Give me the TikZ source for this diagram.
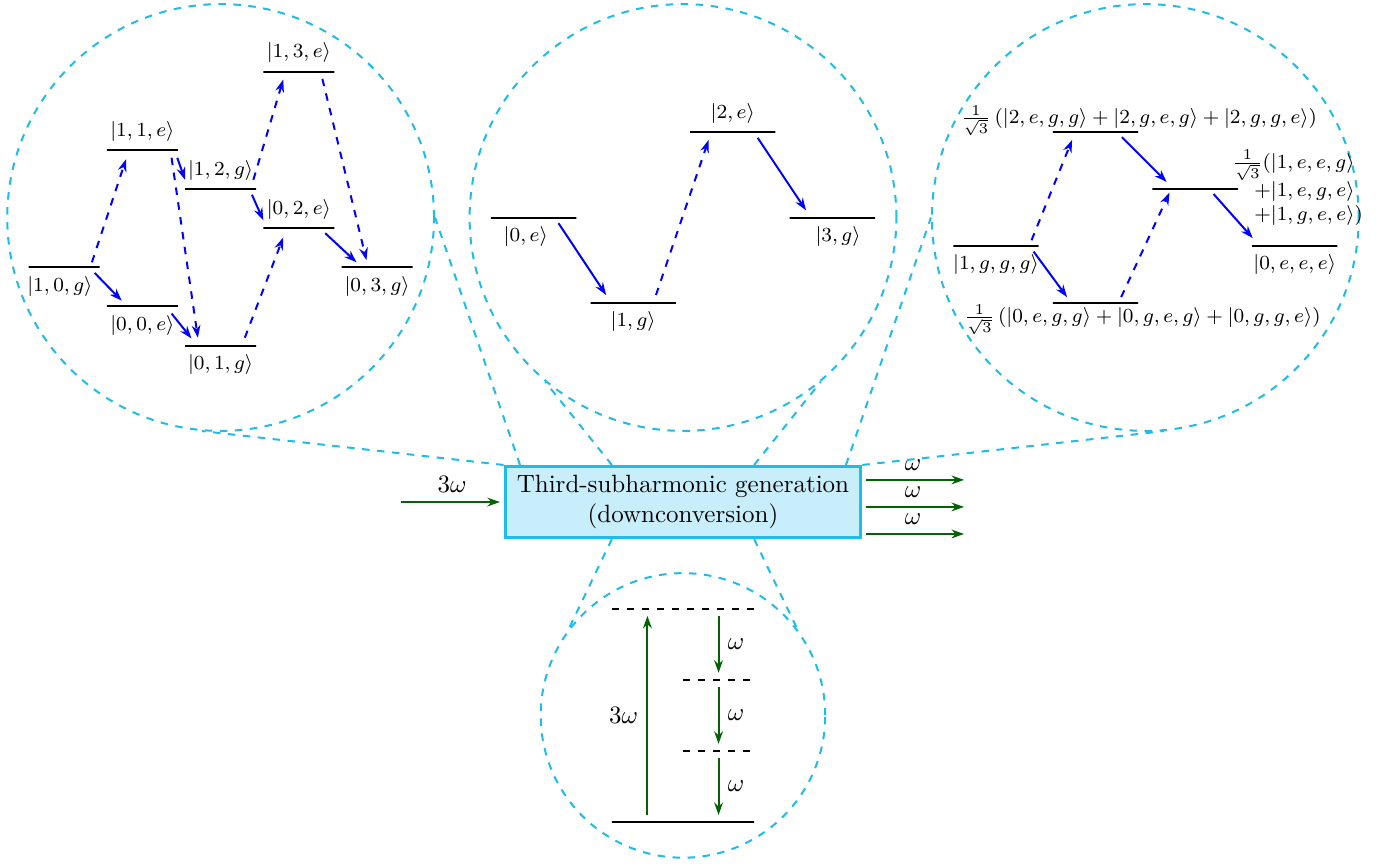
\documentclass[tikz,border=0pt]{standalone}
\usepackage{amsmath}
\usetikzlibrary{arrows.meta,positioning,calc}
\definecolor{cSpy}{HTML}{1FBCEB}
\definecolor{cPhot}{HTML}{006400}
\definecolor{cTrans}{HTML}{0000FF}

\begin{document}
\begin{tikzpicture}[
  lvl/.style={draw=black,thick,minimum width=1cm,minimum height=0pt,inner sep=0pt,outer sep=0pt},
  lvlw/.style={lvl,minimum width=1.2cm},
  lvlpt/.style={minimum height=0pt,inner sep=0pt,outer sep=0pt},
  lbl/.style={font=\footnotesize},
  tr/.style={-{Stealth[length=5pt,width=3.5pt]},thick,draw=cTrans},
  vt/.style={tr,dashed},
  ph/.style={-{Stealth[length=5pt,width=3.5pt]},thick,draw=cPhot},
  zoomc/.style={circle,draw=cSpy,thick,dashed,inner sep=0pt},
  zoomln/.style={draw=cSpy,thick,dashed},
]
\useasboundingbox (-9.602,-5.103) rectangle (10.066,7.058);

% ============================================================ the process box
\node[draw=cSpy,very thick,fill=cSpy!25,align=center,minimum width=5cm,minimum height=1cm]
  (sh) at (0,0) {Third-subharmonic generation\\(downconversion)};

\coordinate (pin) at ([xshift=-1.45cm]sh.west);
\draw[ph,shorten >=1.5pt] (pin) -- (sh.west) node[midway,above,text=black]{$3\omega$};
\foreach \k/\dy in {1/0.21,2/0.59,3/0.97}{
  \coordinate (pout\k) at ([xshift=1.43cm,yshift=-\dy cm]sh.north east);
  \draw[ph,shorten <=1.5pt] ([yshift=-\dy cm]sh.north east) -- (pout\k)
    node[midway,above,text=black]{$\omega$};
}

% ============================================================ zoom circles
\node[zoomc,minimum size=6cm] (cL) at (-6.5,4) {};
\node[zoomc,minimum size=6cm] (cM) at (0,4) {};
\node[zoomc,minimum size=6cm] (cR) at (6.5,4) {};
\node[zoomc,minimum size=4cm] (cB) at (0,-3) {};

\draw[zoomln] (sh.north west) -- (cL.265);
\draw[zoomln] ([xshift=0.23cm]sh.north west) -- (cL.east);
\draw[zoomln] ([xshift=-1cm]sh.north) -- (cM.230);
\draw[zoomln] ([xshift=1cm]sh.north) -- (cM.310);
\draw[zoomln] ([xshift=-0.23cm]sh.north east) -- (cR.west);
\draw[zoomln] (sh.north east) -- (cR.275);
\draw[zoomln] ([xshift=-1cm]sh.south) -- (cB.143);
\draw[zoomln] ([xshift=1cm]sh.south) -- (cB.37);

% ============================================================ A. atom + cavity ladder
\begin{scope}[shift={(-6.5,4)}]
  \node[lvl,label={[lbl,xshift=-0.06cm]below:{$|1,0,g\rangle$}}] (l10g) at (-2.2,-0.7) {};
  \node[lvl,label={[lbl]below:{$|0,0,e\rangle$}}] (l00e) at (-1.1,-1.25) {};
  \node[lvl,label={[lbl]below:{$|0,1,g\rangle$}}] (l01g) at (0,-1.8) {};
  \node[lvl,label={[lbl]above:{$|1,1,e\rangle$}}] (l11e) at (-1.1,0.95) {};
  \node[lvl,label={[lbl]above:{$|1,2,g\rangle$}}] (l12g) at (0,0.4) {};
  \node[lvl,label={[lbl]above:{$|0,2,e\rangle$}}] (l02e) at (1.1,-0.15) {};
  \node[lvl,label={[lbl]above:{$|1,3,e\rangle$}}] (l13e) at (1.1,2.05) {};
  \node[lvl,label={[lbl]below:{$|0,3,g\rangle$}}] (l03g) at (2.2,-0.7) {};
  % transitions
  \draw[vt] ([shift={(0.39,0.07)}]l10g.center) -- ([shift={(-0.23,-0.13)}]l11e.center);
  \draw[tr] ([shift={(0.43,-0.08)}]l10g.center) -- ([shift={(-0.29,0.08)}]l00e.center);
  \draw[tr] ([shift={(0.41,-0.1)}]l00e.center) -- ([shift={(-0.41,0.1)}]l01g.center);
  \draw[vt] ([shift={(0.41,-0.11)}]l11e.center) -- ([shift={(-0.32,0.11)}]l01g.center);
  \draw[tr] ([shift={(0.49,-0.11)}]l11e.center) -- ([shift={(-0.5,0.13)}]l12g.center);
  \draw[vt] ([shift={(0.34,0.11)}]l01g.center) -- ([shift={(-0.22,-0.13)}]l02e.center);
  \draw[vt] ([shift={(0.46,0.13)}]l12g.center) -- ([shift={(-0.22,-0.11)}]l13e.center);
  \draw[tr] ([shift={(0.44,-0.08)}]l12g.center) -- ([shift={(-0.5,0.11)}]l02e.center);
  \draw[vt] ([shift={(0.33,-0.1)}]l13e.center) -- ([shift={(-0.15,0.1)}]l03g.center);
  \draw[tr] ([shift={(0.37,-0.07)}]l02e.center) -- ([shift={(-0.29,0.07)}]l03g.center);
\end{scope}

% ============================================================ B. single mode
\begin{scope}[shift={(0,4)}]
  \node[lvlw,label={[lbl,xshift=-0.11cm]below:{$|0,e\rangle$}}] (m0e) at (-2.1,0) {};
  \node[lvlw,label={[lbl]below:{$|1,g\rangle$}}] (m1g) at (-0.7,-1.2) {};
  \node[lvlw,label={[lbl]above:{$|2,e\rangle$}}] (m2e) at (0.7,1.2) {};
  \node[lvlw,label={[lbl,xshift=0.08cm]below:{$|3,g\rangle$}}] (m3g) at (2.1,0) {};
  \draw[tr] ([shift={(0.35,-0.08)}]m0e.center) -- ([shift={(-0.38,0.11)}]m1g.center);
  \draw[vt] ([shift={(0.32,0.11)}]m1g.center) -- ([shift={(-0.34,-0.11)}]m2e.center);
  \draw[tr] ([shift={(0.35,-0.08)}]m2e.center) -- ([shift={(-0.37,0.1)}]m3g.center);
\end{scope}

% ============================================================ C. three atoms
\begin{scope}[shift={(6.5,4)}]
  \node[lvlw,label={[lbl]below:{$|1,g,g,g\rangle$}}] (r1ggg) at (-2.1,-0.4) {};
  \node[lvlw,label={[lbl,xshift=0.66cm,yshift=0.1cm]below:{$\frac{1}{\sqrt{3}}\left(|0,e,g,g\rangle+|0,g,e,g\rangle+|0,g,g,e\rangle\right)$}}]
    (r0sym) at (-0.7,-1.2) {};
  \node[lvlw,label={[lbl,xshift=0.61cm,yshift=-0.17cm]above:{$\frac{1}{\sqrt{3}}\left(|2,e,g,g\rangle+|2,g,e,g\rangle+|2,g,g,e\rangle\right)$}}]
    (r2sym) at (-0.7,1.2) {};
  \node[lvlw,label={[lbl,xshift=-0.2cm]right:{$\begin{array}{@{}r@{}l@{}}
      \frac{1}{\sqrt{3}}( & |1,e,e,g\rangle\\ + & |1,e,g,e\rangle\\ + & |1,g,e,e\rangle)
    \end{array}$}}] (r1sym) at (0.7,0.4) {};
  \node[lvlw,label={[lbl]below:{$|0,e,e,e\rangle$}}] (r0eee) at (2.1,-0.4) {};
  \draw[vt] ([shift={(0.5,0.08)}]r1ggg.center) -- ([shift={(-0.33,-0.11)}]r2sym.center);
  \draw[tr] ([shift={(0.53,-0.08)}]r1ggg.center) -- ([shift={(-0.4,0.08)}]r0sym.center);
  \draw[vt] ([shift={(0.36,0.08)}]r0sym.center) -- ([shift={(-0.36,-0.05)}]r1sym.center);
  \draw[tr] ([shift={(0.37,-0.07)}]r2sym.center) -- ([shift={(-0.4,0.1)}]r1sym.center);
  \draw[tr] ([shift={(0.26,-0.07)}]r1sym.center) -- ([shift={(-0.59,0.11)}]r0eee.center);
\end{scope}

% ============================================================ D. photon picture
\begin{scope}[shift={(0,-3)}]
  \node[lvlpt,minimum width=2cm] (b3) at (0,1.5) {};
  \node[lvlpt,minimum width=1cm] (b2) at (0.5,0.5) {};
  \node[lvlpt,minimum width=1cm] (b1) at (0.5,-0.5) {};
  \node[lvl,minimum width=2cm] (b0) at (0,-1.5) {};
  \foreach \b in {b3,b2,b1}
    \draw[thick,dashed] (\b.west) -- (\b.east);
  \draw[ph] ([shift={(-0.5,0.1)}]b0.center) -- ([shift={(-0.5,-0.1)}]b3.center)
    node[midway,left]{$3\omega$};
  \draw[ph] ([shift={(0.5,-0.1)}]b3.center) -- ([shift={(0,0.1)}]b2.center)
    node[midway,right]{$\omega$};
  \draw[ph] ([shift={(0,-0.1)}]b2.center) -- ([shift={(0,0.1)}]b1.center)
    node[midway,right]{$\omega$};
  \draw[ph] ([shift={(0,-0.1)}]b1.center) -- ([shift={(0.5,0.1)}]b0.center)
    node[midway,right]{$\omega$};
\end{scope}

\end{tikzpicture}
\end{document}
